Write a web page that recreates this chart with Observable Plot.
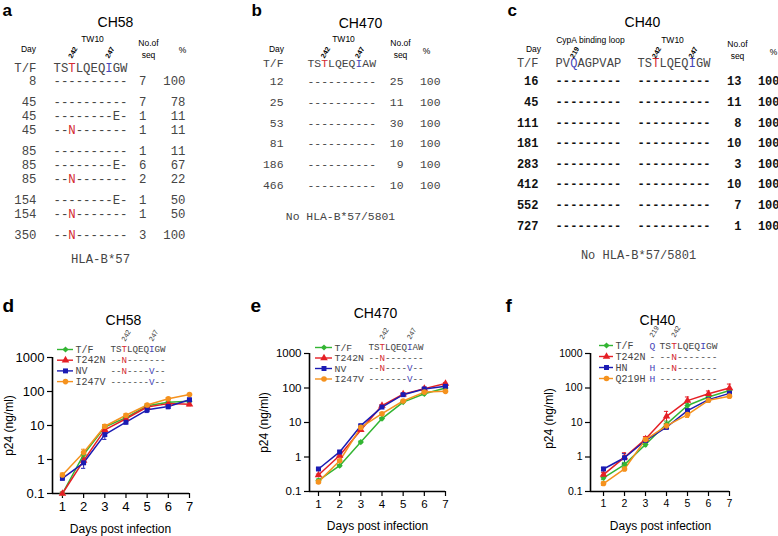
<!DOCTYPE html>
<html><head><meta charset="utf-8">
<script src="https://cdn.jsdelivr.net/npm/d3@7"></script>
<script src="https://cdn.jsdelivr.net/npm/@observablehq/plot@0.6"></script>
<style>
html,body{margin:0;padding:0;background:#fff}
#fig{position:relative;width:778px;height:536px;overflow:hidden;background:#fff}
#fig svg{position:absolute}
</style></head><body><div id="fig"></div>
<script>
// ---------------- sequence tables ----------------
const a_days = ["8","45","45","45","85","85","85","154","154","350"];
const a_tw10 = ["----------","----------","--------E-","--N-------","----------","--------E-","--N-------","--------E-","--N-------","--N-------"];
const a_nseq = ["7","7","1","1","1","6","2","1","1","3"];
const a_pct = ["100","78","11","11","11","67","22","50","50","100"];
const a_tf_tw10 = "TSTLQEQIGW";

const b_days = ["12","25","53","81","186","466"];
const b_tw10 = ["----------","----------","----------","----------","----------","----------"];
const b_nseq = ["25","11","30","10","9","10"];
const b_pct = ["100","100","100","100","100","100"];
const b_tf_tw10 = "TSTLQEQIAW";

const c_days = ["16","45","111","181","283","412","552","727"];
const c_cypa = ["---------","---------","---------","---------","---------","---------","---------","---------"];
const c_tw10 = ["----------","----------","----------","----------","----------","----------","----------","----------"];
const c_nseq = ["13","11","8","10","3","10","7","1"];
const c_pct = ["100","100","100","100","100","100","100","100"];
const c_tf_cypa = "PVQAGPVAP";
const c_tf_tw10 = "TSTLQEQIGW";

// ---------------- growth curves (p24 ng/ml) ----------------
const days = [1,2,3,4,5,6,7];
const yTicks = [0.1,1,10,100,1000];

const d_series = ["T/F","T242N","NV","I247V"];
const d_tf    = [0.1,1.4,9,17,38,48,52];
const d_t242n = [0.1,0.93,7.4,15.8,35,44,42];
const d_nv    = [0.28,0.8,5.4,12.5,29,36,57];
const d_i247v = [0.35,1.6,9.5,20,40,61,82];
const d_tf_err    = [0.01,0.25,1.5,1.5,3,4,5];
const d_t242n_err = [0.01,0.15,1.2,1.5,3,4,4];
const d_nv_err    = [0.03,0.25,1.5,1.5,5,5,7];
const d_i247v_err = [0.05,0.4,1.2,2,4,5,5];
const d_legend_seq = ["TSTLQEQIGW","--N-------","--N----V--","-------V--"];

const e_series = ["T/F","T242N","NV","I247V"];
const e_tf    = [0.21,0.56,2.7,13,39,68,100];
const e_t242n = [0.3,1.1,6.1,31,66,96,135];
const e_nv    = [0.45,1.4,8.1,28,64,94,112];
const e_i247v = [0.19,0.78,7.2,18,42,76,80];
const e_tf_err    = [0.02,0.04,0.2,1,3,5,8];
const e_t242n_err = [0.02,0.08,0.4,2,4,6,10];
const e_nv_err    = [0.03,0.1,0.5,2,4,6,8];
const e_i247v_err = [0.02,0.06,0.4,1.5,3,5,6];
const e_legend_seq = ["TSTLQEQIAW","--N-------","--N----V--","-------V--"];

const f_series = ["T/F","T242N","HN","Q219H"];
const f_tf    = [0.25,0.6,2.3,9,31,55,85];
const f_t242n = [0.31,0.98,3.3,15,43,68,100];
const f_hn    = [0.45,0.95,3.0,7.3,22,46,70];
const f_q219h = [0.17,0.45,3.2,8,17,44,58];
const f_tf_err    = [0.03,0.1,0.3,2,5,8,10];
const f_t242n_err = [0.05,0.35,0.6,6,12,14,30];
const f_hn_err    = [0.05,0.3,0.4,1,3,6,10];
const f_q219h_err = [0.02,0.05,0.4,1.5,3,6,6];
const f_legend_219 = ["Q","-","H","H"];
const f_legend_seq = ["TSTLQEQIGW","--N-------","--N-------","----------"];

// ---------------- styling ----------------
const SANS = "Liberation Sans, Arial, Helvetica, sans-serif";
const MONO = "Liberation Mono, Courier New, monospace";
const RED = "#d42a32", BLUE = "#4646b8", INK = "#454545";
const COLORS = ["#33b533","#e51f25","#1b1bb3","#f5921e"];
const SYMBOLS = ["diamond2","triangle","square","circle"];
const TW10_COL = {2: RED, 7: BLUE};
const CYPA_COL = {2: BLUE};
const fig = document.getElementById("fig");

function seqChars(str, x0, pitch, y, colors){
  return Array.from(str).map((ch,k)=>({ch, x: x0 + (k+0.5)*pitch, y, fill: (ch !== "-" && colors[k]) ? colors[k] : INK}));
}
function rowYs(dd, y0, step, gap){
  let g = 0;
  return dd.map((d,i)=>{ if (i>0 && d!==dd[i-1]) g++; return y0 + i*step + g*gap; });
}
const T = (items, opts) => Plot.text(items, {x:"x", y:"y", text:"t", ...opts});

const marks = [];
// ---- tables ----
function table(cfg){
  const w = cfg.bold ? "bold" : "normal";
  const ink = cfg.bold ? "#111" : INK;
  marks.push(T([{t:cfg.letter, x:cfg.letterX, y:10}], {fontFamily:SANS, fontSize:17, fontWeight:"bold", textAnchor:"start", fill:"#000"}));
  marks.push(T([{t:cfg.title, x:cfg.titleX, y:cfg.titleY}], {fontFamily:SANS, fontSize:14, fill:"#000"}));
  marks.push(T(cfg.headers, {fontFamily:SANS, fontSize:8.5, fill:"#000"}));
  const ys = rowYs(cfg.days, cfg.y0, cfg.step, cfg.gap);
  marks.push(T([{t:"T/F", x:cfg.dayX, y:cfg.tfY}], {fontFamily:MONO, fontSize:cfg.fs, textAnchor:"end", fill:INK}));
  const chars = [], pos = [];
  cfg.segments.forEach(seg=>{
    chars.push(...seqChars(seg.tf, seg.x0, cfg.pitch, cfg.tfY, seg.colors));
    seg.pos.forEach(([k,t])=>pos.push({t, x: seg.x0 + (k+0.5)*cfg.pitch - 2, y: cfg.posY}));
  });
  marks.push(Plot.text(chars, {x:"x", y:"y", text:"ch", fill:"fill", fontFamily:MONO, fontSize:cfg.fs}));
  marks.push(T(pos, {fontFamily:SANS, fontSize:7, fontWeight:"bold", rotate:-60, textAnchor:"start", fill:"#000"}));
  marks.push(T(cfg.days.map((d,i)=>({t:d, x:cfg.dayX, y:ys[i]})), {fontFamily:MONO, fontSize:cfg.fs, fontWeight:w, textAnchor:"end", fill:ink}));
  const rc = [];
  cfg.segments.forEach(seg=>seg.rows.forEach((s,i)=>rc.push(...seqChars(s, seg.x0, cfg.pitch, ys[i], seg.colors))));
  marks.push(Plot.text(rc, {x:"x", y:"y", text:"ch", fill: d => d.fill === INK ? ink : d.fill, fontFamily:MONO, fontSize:cfg.fs, fontWeight:w}));
  marks.push(T(cfg.nseq.map((d,i)=>({t:d, x:cfg.countX, y:ys[i]})), {fontFamily:MONO, fontSize:cfg.fs, fontWeight:w, textAnchor:"end", fill:ink}));
  marks.push(T(cfg.pct.map((d,i)=>({t:d, x:cfg.pctX, y:ys[i]})), {fontFamily:MONO, fontSize:cfg.fs, fontWeight:w, textAnchor:"end", fill:ink}));
  marks.push(T([{t:cfg.foot, x:cfg.footX, y:cfg.footY}], {fontFamily:MONO, fontSize:cfg.fs, fill:INK}));
}
table({letter:"a", letterX:2, title:"CH58", titleX:115, titleY:22,
  headers:[{t:"Day",x:28,y:49},{t:"TW10",x:92,y:39},{t:"No.of",x:148,y:43},{t:"seq",x:148,y:55},{t:"%",x:182,y:50}],
  days:a_days, y0:81, step:14, gap:7, tfY:68, posY:57, dayX:36, pitch:7.4, fs:12.3,
  segments:[{tf:a_tf_tw10, x0:53, colors:TW10_COL, pos:[[2,"242"],[7,"247"]], rows:a_tw10}],
  nseq:a_nseq, pct:a_pct, countX:146, pctX:185, foot:"HLA-B*57", footX:100, footY:259});
table({letter:"b", letterX:251, title:"CH470", titleX:360, titleY:23,
  headers:[{t:"Day",x:276,y:49},{t:"TW10",x:343,y:39},{t:"No.of",x:400,y:43},{t:"seq",x:400,y:55},{t:"%",x:426,y:51}],
  days:b_days, y0:81, step:14, gap:6.7, tfY:63, posY:57, dayX:283, pitch:6.85, fs:11.4,
  segments:[{tf:b_tf_tw10, x0:307, colors:TW10_COL, pos:[[2,"242"],[7,"247"]], rows:b_tw10}],
  nseq:b_nseq, pct:b_pct, countX:403, pctX:440, foot:"No HLA-B*57/5801", footX:340, footY:216});
table({letter:"c", letterX:507, title:"CH40", titleX:642, titleY:22, bold:true,
  headers:[{t:"Day",x:533,y:49},{t:"CypA binding loop",x:590,y:40},{t:"TW10",x:672,y:40},{t:"No.of",x:737,y:44},{t:"seq",x:737,y:56},{t:"%",x:773,y:52}],
  days:c_days, y0:81, step:14, gap:6.6, tfY:63, posY:57, dayX:538, pitch:7.3, fs:12,
  segments:[{tf:c_tf_cypa, x0:555, colors:CYPA_COL, pos:[[2,"219"]], rows:c_cypa},
            {tf:c_tf_tw10, x0:637, colors:TW10_COL, pos:[[2,"242"],[7,"247"]], rows:c_tw10}],
  nseq:c_nseq, pct:c_pct, countX:741, pctX:779, foot:"No HLA-B*57/5801", footX:638, footY:255});

// ---- growth panels ----
function growth(cfg){
  const rows = [];
  cfg.series.forEach((s,si)=>days.forEach((d,j)=>rows.push({s, d, v:cfg.vals[si][j], e:cfg.errs[si][j]})));
  const svg = Plot.plot({
    width: cfg.width, height: 236,
    marginLeft: cfg.ml, marginRight: cfg.mr, marginTop: cfg.mt, marginBottom: cfg.mb,
    style: {fontFamily: SANS, fontSize: cfg.tickFs + "px", color: "#000", background: "transparent", overflow: "visible"},
    x: {domain: [cfg.x0, 7], axis: null},
    y: {type: "log", domain: [0.1, 1000], axis: null},
    color: {domain: cfg.series, range: COLORS},
    symbol: {domain: cfg.series, range: SYMBOLS},
    marks: [
      Plot.axisY(yTicks, {tickFormat: d => String(d), tickSize: 5, tickPadding: 3, label: null, fontSize: cfg.tickFs, strokeWidth: 1.2}),
      Plot.axisX(days, {tickFormat: d => String(d), tickSize: 5, tickPadding: 3, label: null, fontSize: cfg.tickFs, strokeWidth: 1.2}),
      Plot.ruleX([cfg.x0], {stroke: "#000", strokeWidth: 1.6}),
      Plot.ruleY([0.1], {stroke: "#000", strokeWidth: 1.6}),
      Plot.ruleX(rows, {x: "d", y1: r => Math.max(r.v - r.e, 0.1), y2: r => r.v + r.e, stroke: "s", strokeWidth: 1}),
      Plot.ruleY(rows, {y: r => r.v + r.e, x1: r => r.d - 0.1, x2: r => r.d + 0.1, stroke: "s", strokeWidth: 1}),
      Plot.ruleY(rows, {y: r => Math.max(r.v - r.e, 0.1), x1: r => r.d - 0.1, x2: r => r.d + 0.1, stroke: "s", strokeWidth: 1}),
      Plot.line(rows, {x: "d", y: "v", z: "s", stroke: "s", strokeWidth: 1.5}),
      Plot.dot(rows, {x: "d", y: "v", symbol: "s", fill: "s", r: 2.8})
    ]
  });
  svg.style.left = cfg.left + "px"; svg.style.top = "300px";
  fig.append(svg);

  // annotations (absolute coordinates)
  marks.push(T([{t:cfg.letter, x:cfg.letterX, y:305}], {fontFamily:SANS, fontSize:19, fontWeight:"bold", textAnchor:"start", fill:"#000"}));
  marks.push(T([{t:cfg.title, x:cfg.titleX, y:cfg.titleY}], {fontFamily:SANS, fontSize:14, fill:"#000"}));
  marks.push(T([{t:"p24 (ng/ml)", x:cfg.ylabX, y:cfg.ylabY}], {fontFamily:SANS, fontSize:12, rotate:-90, fill:"#000"}));
  marks.push(T([{t:"Days post infection", x:cfg.xlabX, y:cfg.xlabY}], {fontFamily:SANS, fontSize:12, fill:"#000"}));
  const chars = [], pos = [];
  cfg.series.forEach((s,i)=>{
    const y = cfg.legY0 + i*cfg.legStep;
    marks.push(Plot.ruleY([y], {x1: cfg.sw[0], x2: cfg.sw[1], stroke: COLORS[i], strokeWidth: 1.4}));
    marks.push(Plot.dot([y], {x: (cfg.sw[0]+cfg.sw[1])/2, y: d => d, symbol: SYMBOLS[i], fill: COLORS[i], r: 2.8}));
    marks.push(T([{t:s, x:cfg.labX, y}], {fontFamily:MONO, fontSize:cfg.labFs, textAnchor:"start", fill:INK}));
    cfg.segs.forEach(seg => chars.push(...seqChars(seg.rows[i], seg.x0, cfg.pitch, y, seg.colors)));
  });
  cfg.segs.forEach(seg => seg.pos.forEach(([k,t]) => pos.push({t, x: seg.x0 + (k+0.5)*cfg.pitch - 1, y: cfg.legY0 - 9})));
  marks.push(Plot.text(chars, {x:"x", y:"y", text:"ch", fill:"fill", fontFamily:MONO, fontSize:cfg.seqFs}));
  marks.push(T(pos, {fontFamily:SANS, fontSize:7, rotate:-60, textAnchor:"start", fill:"#333"}));
}
growth({left:0, width:260, ml:52, mr:71, mt:57, mb:43, x0:0.53, tickFs:13,
  series:d_series, vals:[d_tf,d_t242n,d_nv,d_i247v], errs:[d_tf_err,d_t242n_err,d_nv_err,d_i247v_err],
  letter:"d", letterX:2, title:"CH58", titleX:123, titleY:320, ylabX:9, ylabY:425, xlabX:120, xlabY:529,
  legY0:349, legStep:10.7, sw:[57,73], labX:75, labFs:10, pitch:5.5, seqFs:9.2,
  segs:[{x0:110, colors:TW10_COL, pos:[[2,"242"],[7,"247"]], rows:d_legend_seq}]});
growth({left:260, width:260, ml:49, mr:75, mt:53, mb:45, x0:0.575, tickFs:11.5,
  series:e_series, vals:[e_tf,e_t242n,e_nv,e_i247v], errs:[e_tf_err,e_t242n_err,e_nv_err,e_i247v_err],
  letter:"e", letterX:250, title:"CH470", titleX:375, titleY:313, ylabX:264, ylabY:422, xlabX:377, xlabY:526,
  legY0:347, legStep:10.5, sw:[315,332], labX:334, labFs:9.8, pitch:5.5, seqFs:9.2,
  segs:[{x0:368, colors:TW10_COL, pos:[[2,"242"],[7,"247"]], rows:e_legend_seq}]});
growth({left:520, width:258, ml:70, mr:49, mt:53, mb:45, x0:0.38, tickFs:10.5,
  series:f_series, vals:[f_tf,f_t242n,f_hn,f_q219h], errs:[f_tf_err,f_t242n_err,f_hn_err,f_q219h_err],
  letter:"f", letterX:505, title:"CH40", titleX:657, titleY:320, ylabX:549, ylabY:418, xlabX:660, xlabY:526,
  legY0:345, legStep:11, sw:[599,613], labX:615, labFs:10, pitch:5.8, seqFs:9.6,
  segs:[{x0:649, colors:{0: BLUE}, pos:[[0,"219"]], rows:f_legend_219},
        {x0:659, colors:TW10_COL, pos:[[2,"242"]], rows:f_legend_seq}]});

const overlay = Plot.plot({
  width: 778, height: 536, margin: 0, marginTop: 0, marginRight: 0, marginBottom: 0, marginLeft: 0,
  x: {type: "identity", axis: null}, y: {type: "identity", axis: null}, color: {type: "identity"},
  style: {background: "transparent", overflow: "visible"},
  marks
});
overlay.style.left = "0px"; overlay.style.top = "0px";
fig.append(overlay);
</script></body></html>
